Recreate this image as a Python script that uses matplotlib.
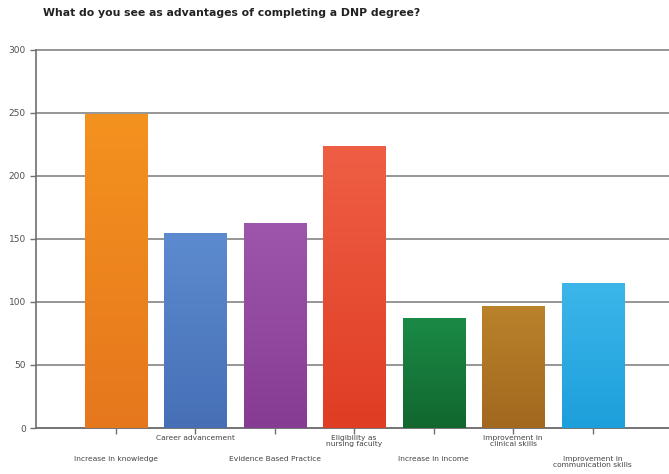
import numpy as np
import matplotlib.pyplot as plt
from matplotlib.colors import LinearSegmentedColormap

# survey answers
categories = ['Increase in knowledge', 'Career advancement', 'Evidence Based Practice',
              'Eligibility as\nnursing faculty', 'Increase in income',
              'Improvement in\nclinical skills', 'Improvement in\ncommunication skills']
counts = [249, 155, 163, 224, 87, 97, 115]

# (top, bottom) colours of each bar gradient
top_colors = ['#f4921f', '#5d8bd0', '#9d56ab', '#ef5f45', '#1b8a46', '#ba822b', '#3cb6ea']
bottom_colors = ['#e6771d', '#466fb6', '#873c94', '#df3d24', '#12672f', '#a2681f', '#1d9fdb']

fig = plt.figure(figsize=(6.69, 4.74), dpi=100)
ax = fig.add_axes([0.054, 0.097, 0.946, 0.798])

x = np.arange(len(categories))
bars = ax.bar(x, counts, width=0.78, color=bottom_colors, zorder=2)

# vertical gradient inside each bar
grad = np.linspace(0, 1, 256).reshape(-1, 1)
for bar, c_top, c_bot in zip(bars, top_colors, bottom_colors):
    cmap = LinearSegmentedColormap.from_list('g', [c_bot, c_top])
    x0 = bar.get_x()
    w = bar.get_width()
    h = bar.get_height()
    im = ax.imshow(grad, cmap=cmap, aspect='auto', origin='lower',
                   extent=[x0, x0 + w, 0, h], zorder=3)
    im.set_clip_path(bar)

ax.set_xlim(-1, 6.96)
ax.set_ylim(0, 300)
ax.set_yticks(range(0, 301, 50))
ax.yaxis.grid(True, color='#969696', linewidth=1.4, zorder=0)
ax.set_axisbelow(True)
for gl in ax.get_ygridlines():
    gl.set_clip_on(False)

for s in ['top', 'right']:
    ax.spines[s].set_visible(False)
ax.spines['left'].set_color('#707070')
ax.spines['bottom'].set_color('#707070')
ax.spines['left'].set_linewidth(1.2)
ax.spines['bottom'].set_linewidth(1.2)

ax.tick_params(axis='y', labelsize=6.5, colors='#707070', labelcolor='#505050', length=4, width=1)
ax.set_xticks(x)
ax.set_xticklabels([])
ax.tick_params(axis='x', colors='#707070', length=4, width=1)

# staggered category labels
for i, name in enumerate(categories):
    off = -5 if i % 2 == 1 else -20
    ax.annotate(name, xy=(i, 0), xycoords=('data', 'axes fraction'),
                xytext=(0, off), textcoords='offset points',
                ha='center', va='top', fontsize=5.4, color='#444444',
                linespacing=1.0, annotation_clip=False)

fig.text(0.064, 0.972, 'What do you see as advantages of completing a DNP degree?',
         fontsize=7.8, fontweight='bold', color='#222222', va='center')

plt.savefig('out.png', dpi=100)
